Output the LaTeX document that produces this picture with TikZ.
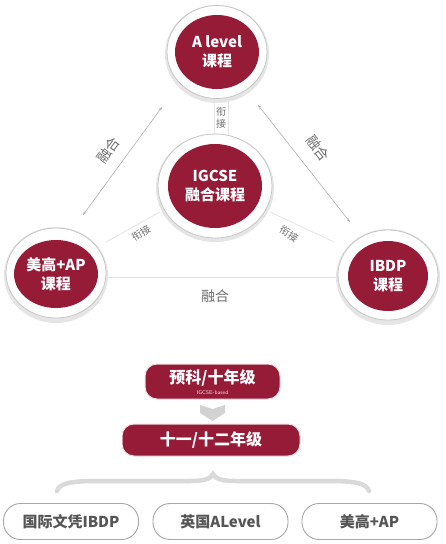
\documentclass[tikz,border=0pt]{standalone}
\usepackage{fontspec}
\newfontfamily\cjk{Noto Sans CJK SC}
\usetikzlibrary{shapes.geometric,arrows.meta}
\definecolor{maroon}{HTML}{961B36}
\definecolor{lbl}{HTML}{6E6E6E}
\definecolor{boxtxt}{HTML}{555555}
\begin{document}
\begin{tikzpicture}[x=1pt,y=-1pt,
  ring/.style={ellipse, inner sep=0pt, fill=white, draw=gray!45, line width=0.8pt},
  ringshadow/.style={ellipse, inner sep=0pt, fill=black!10, draw=none},
  disc/.style={ellipse, inner sep=0pt, fill=maroon, text=white, align=center,
    font=\cjk\bfseries\fontsize{15}{19}\selectfont},
  faint/.style={draw=black!10, line width=0.8pt},
  garrow/.style={draw=gray!60, line width=0.6pt, {Stealth[length=4pt,width=3pt]}-{Stealth[length=4pt,width=3pt]}},
  glabel/.style={text=lbl, font=\cjk\fontsize{14}{16}\selectfont, inner sep=1pt},
  slabel/.style={text=lbl, font=\cjk\fontsize{10}{13}\selectfont, inner sep=1pt, align=center},
  darkbox/.style={rectangle, rounded corners=12pt, fill=maroon, draw=white!85!maroon, line width=1pt, inner sep=0pt},
  darktext/.style={text=white, font=\cjk\bfseries\fontsize{16}{18}\selectfont, inner sep=0pt},
  pill/.style={rectangle, rounded corners=17pt, fill=white, draw=gray!70, line width=0.9pt, inner sep=0pt,
    text=boxtxt, font=\cjk\bfseries\fontsize{15}{17}\selectfont},
  brace/.style={draw=gray!30, line width=4.5pt, line cap=round}
]
\useasboundingbox (0,0) rectangle (445,544);
\fill[white] (0,0) rectangle (445,544);

% faint links
\fill[white] (214,96) rectangle (228,138);
\draw[faint] (214,96) -- (214,138);
\draw[faint] (228,96) -- (228,138);
\coordinate (ml1) at (160,212);
\coordinate (ml2) at (106,242);
\coordinate (mr1) at (270,212);
\coordinate (mr2) at (334,242);
\coordinate (b1) at (104,277);
\coordinate (b2) at (337,277);
\draw[faint] (ml1) -- (ml2);
\draw[faint] (mr1) -- (mr2);
\draw[faint] (b1) -- (b2);

% shadows
\node[ringshadow, minimum width=104pt, minimum height=98pt] (topS) at (217,54) {};
\node[ringshadow, minimum width=118pt, minimum height=108pt] (midS) at (215,188) {};
\node[ringshadow, minimum width=104pt, minimum height=96pt] (leftS) at (56,275) {};
\node[ringshadow, minimum width=104pt, minimum height=96pt] (rightS) at (388,277) {};

% rings
\node[ring, minimum width=100pt, minimum height=93pt] (topO) at (217,52) {};
\node[ring, minimum width=114pt, minimum height=104pt] (midO) at (215,186) {};
\node[ring, minimum width=100pt, minimum height=90pt] (leftO) at (56,273) {};
\node[ring, minimum width=100pt, minimum height=90pt] (rightO) at (388,275) {};

% discs
\node[disc, minimum width=84pt, minimum height=74pt] (top) at (217,52) {A level\\课程};
\node[disc, minimum width=94pt, minimum height=84pt] (mid) at (215,186) {IGCSE\\融合课程};
\node[disc, minimum width=82pt, minimum height=68pt] (left) at (56,274) {美高+AP\\课程};
\node[disc, minimum width=80pt, minimum height=70pt] (right) at (388,276) {IBDP\\课程};

% arrows between outer circles
\coordinate (tl1) at (162,107);
\coordinate (tl2) at (83,215);
\coordinate (tr1) at (258,105);
\coordinate (tr2) at (350,222);
\draw[garrow] (tl1) -- (tl2);
\draw[garrow] (tr1) -- (tr2);

% labels
\node[glabel, rotate=54] (lfuse) at (108,150) {融合};
\node[glabel, rotate=-52] (rfuse) at (318,148) {融合};
\node[glabel] (bfuse) at (215,296) {融合};
\node[slabel] (tlink) at (221,118) {衔\\[-1pt]接};
\node[slabel, rotate=32] (llink) at (141,233) {衔接};
\node[slabel, rotate=-32] (rlink) at (289,234) {衔接};

% lower flow
\node[darkbox, minimum width=135pt, minimum height=35pt] (yk) at (212.5,381.5) {};
\node[darktext] (yktext) at (212.5,378.5) {预科/十年级};
\node[text=white!85!maroon, font=\sffamily\fontsize{5.5}{6}\selectfont, inner sep=0pt] (ykbased) at (212.5,392.5) {IGCSE-based};
\node[darkbox, minimum width=178pt, minimum height=32pt] (g12) at (211,440) {};
\node[darktext] (g12text) at (211,440) {十一/十二年级};
\fill[gray!35] (200,405) -- (212.5,409) -- (225,405) -- (225,413) -- (212.5,421) -- (200,413) -- cycle;

% brace
\draw[brace] (57,491) .. controls (60,483) and (70,481) .. (100,481) -- (190,481)
  .. controls (205,481) and (210,479) .. (213,474)
  .. controls (216,479) and (221,481) .. (236,481) -- (326,481)
  .. controls (356,481) and (366,483) .. (369,491);

% bottom pills
\node[pill, minimum width=135pt, minimum height=36pt] (p1) at (71,521.5) {国际文凭IBDP};
\node[pill, minimum width=135pt, minimum height=36pt] (p2) at (220.5,521.5) {英国ALevel};
\node[pill, minimum width=135pt, minimum height=36pt] (p3) at (369.5,521.5) {美高+AP};
\end{tikzpicture}
\end{document}
